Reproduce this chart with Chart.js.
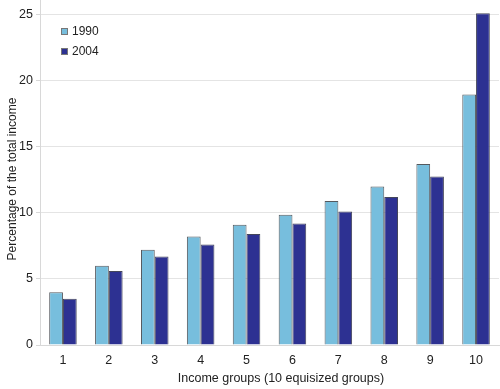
<!DOCTYPE html>
<html><head><meta charset="utf-8">
<script src="https://cdn.jsdelivr.net/npm/chart.js@4.4.0/dist/chart.umd.min.js"></script>
<style>html,body{margin:0;padding:0;background:#fff}#wrap{width:500px;height:389px;position:relative}</style>
</head><body><div id="wrap"><canvas id="c" width="500" height="389"></canvas></div>
<script>
const categories = ['1','2','3','4','5','6','7','8','9','10'];
const seriesNames = ['1990','2004'];
const values1990 = [4.0, 6.0, 7.2, 8.2, 9.1, 9.85, 10.9, 12.0, 13.7, 18.95];
const values2004 = [3.5, 5.6, 6.7, 7.6, 8.4, 9.2, 10.1, 11.2, 12.75, 25.1];
const yTicks = [0, 5, 10, 15, 20, 25];
const xTitle = 'Income groups (10 equisized groups)';
const yTitle = 'Percentage of the total income';

const FONT = 'Liberation Sans, Arial, sans-serif';
const legendPlugin = {
  id: 'innerLegend',
  afterDraw(chart) {
    const ctx = chart.ctx;
    ctx.save();
    ctx.font = '12px ' + FONT;
    ctx.textBaseline = 'middle';
    chart.data.datasets.forEach((ds, i) => {
      const x = 61, y = 28 + i * 20;
      ctx.fillStyle = ds.backgroundColor;
      ctx.fillRect(x, y, 7, 7);
      ctx.strokeStyle = '#777';
      ctx.lineWidth = 1;
      ctx.strokeRect(x + 0.5, y + 0.5, 6, 6);
      ctx.fillStyle = '#222';
      ctx.fillText(ds.label, x + 11, y + 4);
    });
    // axis titles
    ctx.font = '12.5px ' + FONT;
    ctx.textAlign = 'center';
    ctx.fillStyle = '#222';
    ctx.fillText(xTitle, 281, 379);
    ctx.font = '12px ' + FONT;
    ctx.translate(13, 179);
    ctx.rotate(-Math.PI / 2);
    ctx.fillText(yTitle, 0, 0);
    ctx.restore();
  }
};

new Chart(document.getElementById('c'), {
  type: 'bar',
  data: {
    labels: categories,
    datasets: [
      { label: seriesNames[0], data: values1990, backgroundColor: '#77bedd', borderColor: '#55595e', borderWidth: 1, borderSkipped: 'bottom' },
      { label: seriesNames[1], data: values2004, backgroundColor: '#2d3192', borderColor: '#44465a', borderWidth: 1, borderSkipped: 'bottom' }
    ]
  },
  options: {
    responsive: false,
    animation: false,
    devicePixelRatio: 1,
    layout: { padding: { left: 0, right: 1, top: 0, bottom: 0 } },
    plugins: { legend: { display: false }, tooltip: { enabled: false } },
    datasets: { bar: { categoryPercentage: 0.6, barPercentage: 1.0 } },
    scales: {
      x: {
        grid: { display: false, drawTicks: false },
        border: { display: true, color: '#d8d8d8' },
        ticks: { color: '#222', font: { family: FONT, size: 12.5 }, padding: 8 },
        afterFit(s) { s.height = 44; s.paddingLeft = 0; s.paddingRight = 0; }
      },
      y: {
        min: 0, max: 26.1,
        afterBuildTicks(s) { s.ticks = yTicks.map(v => ({ value: v })); },
        grid: { color: '#e4e4e4', tickLength: 4, tickColor: '#d8d8d8' },
        border: { display: true, color: '#d8d8d8' },
        ticks: { color: '#222', font: { family: FONT, size: 12.5 }, padding: 3 },
        afterFit(s) { s.width = 40; s.paddingTop = 0; s.paddingBottom = 0; }
      }
    }
  },
  plugins: [legendPlugin]
});
</script></body></html>
